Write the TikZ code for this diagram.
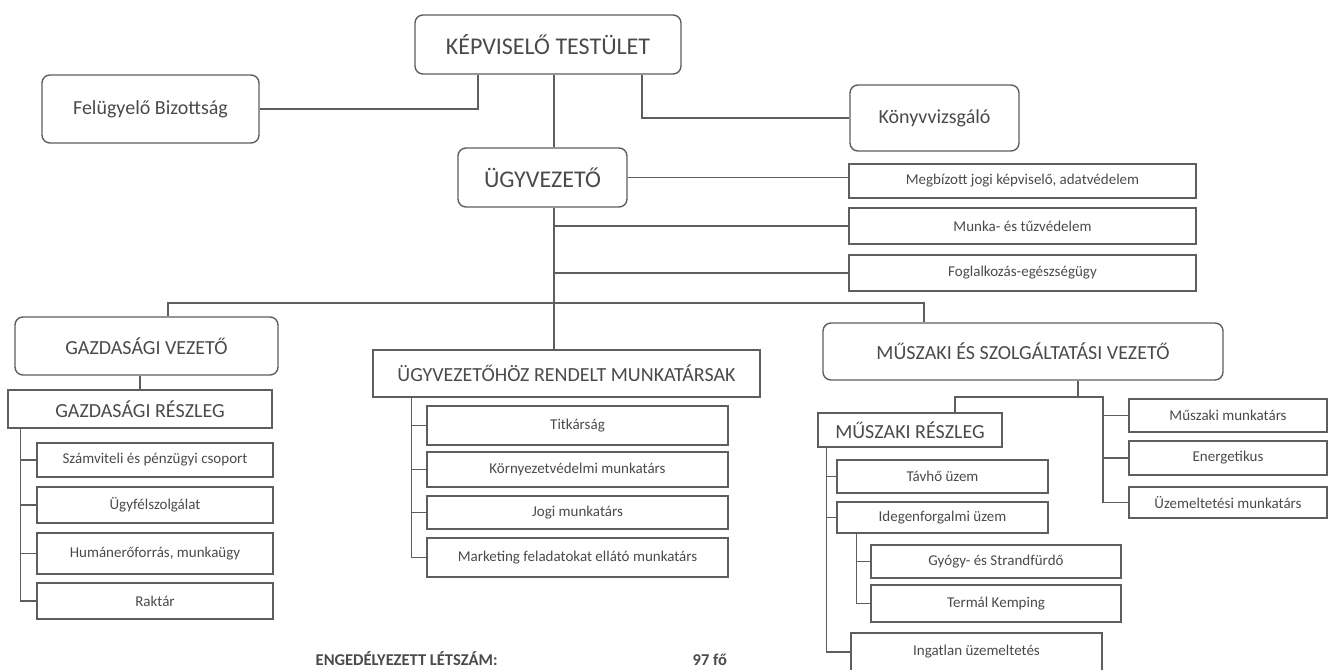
\documentclass[tikz,border=0pt]{standalone}
\usepackage{fontspec}
\setmainfont{Carlito}
\usetikzlibrary{positioning}
\definecolor{linegray}{HTML}{5E5E5E}
\definecolor{txtgray}{HTML}{4A4A4A}
\begin{document}
\begin{tikzpicture}[x=1pt,y=-1pt,line width=1.2pt,draw=linegray,
  every node/.style={text=txtgray,inner sep=0pt,line width=1.4pt},
  rbox/.style={draw=linegray,rounded corners=8pt},
  sbox/.style={draw=linegray},
  huge/.style={font=\fontsize{24}{28}\selectfont},
  big/.style={font=\fontsize{20}{24}\selectfont},
  small/.style={font=\fontsize{15}{18}\selectfont}]
\useasboundingbox (0,0) rectangle (1329,669);
% top level
\node (kt)   [rbox,huge,minimum width=266,minimum height=59] at (548,44.5)  {KÉPVISELŐ TESTÜLET};
\node (fb)   [rbox,big,minimum width=217,minimum height=68]  at (150.5,109) {Felügyelő Bizottság};
\node (kv)   [rbox,big,minimum width=169,minimum height=66]  at (934.5,118) {Könyvvizsgáló};
\node (ugy)  [rbox,huge,minimum width=169,minimum height=59] at (542.5,177.5) {ÜGYVEZETŐ};
\node (megb) [sbox,small,minimum width=347,minimum height=34] at (1022.5,181) {Megbízott jogi képviselő, adatvédelem};
\node (munka)[sbox,small,minimum width=347,minimum height=36] at (1022.5,226) {Munka- és tűzvédelem};
\node (fogl) [sbox,small,minimum width=347,minimum height=36] at (1022.5,273) {Foglalkozás-egészségügy};
% gazdasagi ag
\node (gv)   [rbox,big,minimum width=263,minimum height=58] at (146.5,346) {GAZDASÁGI VEZETŐ};
\node (gr)   [sbox,big,minimum width=264,minimum height=38] at (140,409) {GAZDASÁGI RÉSZLEG};
\node (szam) [sbox,small,minimum width=236,minimum height=34] at (155,460) {Számviteli és pénzügyi csoport};
\node (ugyf) [sbox,small,minimum width=236,minimum height=36] at (155,505) {Ügyfélszolgálat};
\node (hum)  [sbox,small,minimum width=236,minimum height=41] at (155,553.5) {Humánerőforrás, munkaügy};
\node (rakt) [sbox,small,minimum width=236,minimum height=36] at (155,601) {Raktár};
% ugyvezetohoz rendelt
\node (ugyh) [sbox,big,minimum width=387,minimum height=47] at (566.5,373.5) {ÜGYVEZETŐHÖZ RENDELT MUNKATÁRSAK};
\node (titk) [sbox,small,minimum width=301,minimum height=39] at (577.5,425.5) {Titkárság};
\node (korny)[sbox,small,minimum width=301,minimum height=35] at (577.5,469.5) {Környezetvédelmi munkatárs};
\node (jogi) [sbox,small,minimum width=301,minimum height=33] at (577.5,512.5) {Jogi munkatárs};
\node (mark) [sbox,small,minimum width=301,minimum height=39] at (577.5,557.5) {Marketing feladatokat ellátó munkatárs};
% muszaki ag
\node (msv)  [rbox,big,minimum width=400,minimum height=57] at (1023,351.5) {MŰSZAKI ÉS SZOLGÁLTATÁSI VEZETŐ};
\node (mr)   [sbox,big,minimum width=184,minimum height=34] at (910,430) {MŰSZAKI RÉSZLEG};
\node (tav)  [sbox,small,minimum width=211,minimum height=33] at (942.5,476.5) {Távhő üzem};
\node (ideg) [sbox,small,minimum width=211,minimum height=31] at (942.5,517.5) {Idegenforgalmi üzem};
\node (gyogy)[sbox,small,minimum width=250,minimum height=33] at (996,561.5) {Gyógy- és Strandfürdő};
\node (term) [sbox,small,minimum width=250,minimum height=37] at (996,603.5) {Termál Kemping};
\node (ingat)[sbox,small,minimum width=251,minimum height=38] at (976.5,652) {Ingatlan üzemeltetés};
\node (mm)   [sbox,small,minimum width=198,minimum height=33] at (1228,415.5) {Műszaki munkatárs};
\node (en)   [sbox,small,minimum width=198,minimum height=34] at (1228,458) {Energetikus};
\node (uzm)  [sbox,small,minimum width=198,minimum height=31] at (1228,502.5) {Üzemeltetési munkatárs};
% letszam
\node (letszam) [anchor=base west,font=\bfseries\fontsize{16.5}{19}\selectfont] at (315,665) {ENGEDÉLYEZETT LÉTSZÁM:};
\node (fo) [anchor=base west,font=\bfseries\fontsize{16.5}{19}\selectfont] at (692,665) {97 fő};

\coordinate (spine) at (554,303);
\coordinate (busL) at (168,303);
\coordinate (busR) at (924,303);
\coordinate (mjunc) at (1078,397);
\coordinate (mL) at (955,397);
\coordinate (mR) at (1103,397);

\draw ([xshift=-70]kt.south) |- (fb.east);
\draw ([xshift=94]kt.south) |- (kv.west);
\draw (kt.south -| spine) -- (ugy.north -| spine);
\draw (ugy.south -| spine) -- (ugyh.north -| spine);
\draw (ugy.east) -- (ugy.east -| megb.west);
\foreach \n in {munka,fogl}
  \draw (spine |- \n.west) -- (\n.west);
\draw (gv.north -| busL) -- (busL) -- (busR) -- (msv.north -| busR);
\draw (gr.north) -- (gr.north |- gv.south);
\foreach \n in {szam,ugyf,hum,rakt}
  \draw ([xshift=13]gr.south west) |- (\n.west);
\foreach \n in {titk,korny,jogi,mark}
  \draw ([xshift=39]ugyh.south west) |- (\n.west);
\draw (msv.south -| mjunc) -- (mjunc);
\draw (mr.north -| mL) -- (mL) -- (mR) |- (uzm.west);
\foreach \n in {mm,en}
  \draw (mR |- \n.west) -- (\n.west);
\foreach \n in {tav,ideg,ingat}
  \draw ([xshift=9]mr.south west) |- (\n.west);
\foreach \n in {gyogy,term}
  \draw ([xshift=20]ideg.south west) |- (\n.west);
\end{tikzpicture}
\end{document}
